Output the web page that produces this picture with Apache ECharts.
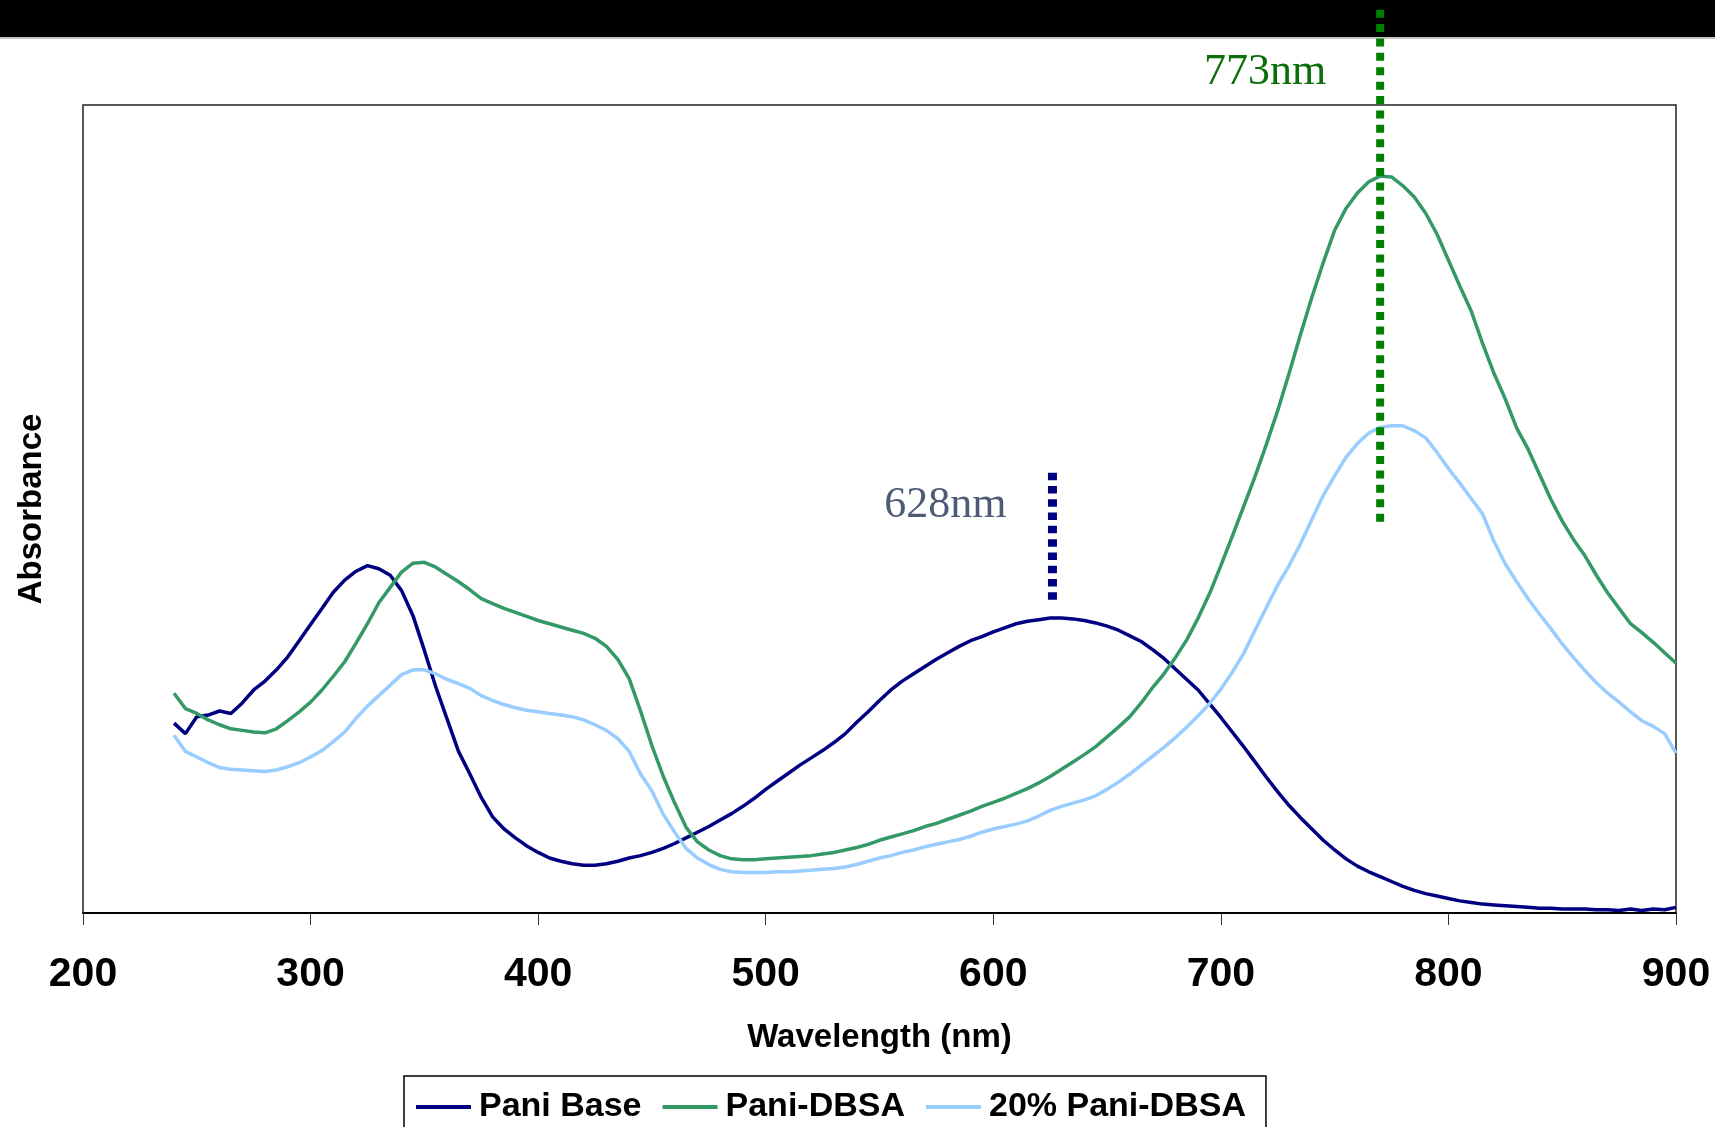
<!DOCTYPE html>
<html>
<head>
<meta charset="utf-8">
<script src="https://cdn.jsdelivr.net/npm/echarts@6/dist/echarts.min.js"></script>
<style>
  html, body {margin: 0; padding: 0; background: #fff;}
  #main {width: 1715px; height: 1127px;}
</style>
</head>
<body>
<div id="main"></div>
<script>
// wavelength grid (nm)
var wavelength = [
  240,245,250,255,260,265,270,275,280,285,
  290,295,300,305,310,315,320,325,330,335,
  340,345,350,355,360,365,370,375,380,385,
  390,395,400,405,410,415,420,425,430,435,
  440,445,450,455,460,465,470,475,480,485,
  490,495,500,505,510,515,520,525,530,535,
  540,545,550,555,560,565,570,575,580,585,
  590,595,600,605,610,615,620,625,630,635,
  640,645,650,655,660,665,670,675,680,685,
  690,695,700,705,710,715,720,725,730,735,
  740,745,750,755,760,765,770,775,780,785,
  790,795,800,805,810,815,820,825,830,835,
  840,845,850,855,860,865,870,875,880,885,
  890,895,900
];
// absorbance (arbitrary units)
var paniBase = [
  0.235,0.222,0.243,0.245,0.250,0.247,0.260,0.276,0.287,0.301,
  0.317,0.337,0.357,0.377,0.397,0.412,0.423,0.430,0.426,0.418,
  0.399,0.368,0.325,0.280,0.240,0.200,0.172,0.143,0.119,0.104,
  0.093,0.083,0.075,0.068,0.064,0.061,0.059,0.059,0.061,0.064,
  0.068,0.071,0.075,0.080,0.086,0.093,0.100,0.107,0.115,0.123,
  0.132,0.142,0.153,0.163,0.173,0.183,0.192,0.201,0.211,0.222,
  0.236,0.249,0.263,0.276,0.287,0.296,0.305,0.314,0.322,0.330,
  0.337,0.342,0.348,0.353,0.358,0.361,0.363,0.365,0.365,0.364,
  0.362,0.359,0.355,0.350,0.343,0.336,0.326,0.315,0.302,0.289,
  0.276,0.259,0.242,0.224,0.206,0.187,0.168,0.150,0.133,0.118,
  0.104,0.090,0.078,0.067,0.058,0.051,0.045,0.039,0.033,0.028,
  0.024,0.021,0.018,0.015,0.013,0.011,0.010,0.009,0.008,0.007,
  0.006,0.006,0.005,0.005,0.005,0.004,0.004,0.003,0.005,0.003,
  0.005,0.004,0.007
];
var paniDbsa = [
  0.272,0.253,0.247,0.239,0.233,0.228,0.226,0.224,0.223,0.228,
  0.238,0.249,0.261,0.276,0.293,0.311,0.334,0.358,0.384,0.403,
  0.422,0.433,0.434,0.428,0.419,0.410,0.400,0.389,0.383,0.377,
  0.372,0.367,0.362,0.358,0.354,0.350,0.346,0.340,0.330,0.314,
  0.290,0.250,0.207,0.169,0.136,0.106,0.088,0.078,0.071,0.067,
  0.066,0.066,0.067,0.068,0.069,0.070,0.071,0.073,0.075,0.078,
  0.081,0.085,0.090,0.094,0.098,0.102,0.107,0.111,0.116,0.121,
  0.126,0.132,0.137,0.142,0.148,0.154,0.161,0.169,0.178,0.187,
  0.196,0.206,0.218,0.230,0.243,0.260,0.279,0.296,0.316,0.338,
  0.365,0.395,0.430,0.466,0.503,0.540,0.580,0.622,0.668,0.716,
  0.762,0.805,0.845,0.872,0.891,0.905,0.912,0.911,0.900,0.886,
  0.866,0.840,0.808,0.776,0.745,0.705,0.668,0.636,0.600,0.574,
  0.543,0.512,0.485,0.462,0.442,0.418,0.396,0.377,0.358,0.347,
  0.335,0.322,0.309
];
var pani20 = [
  0.220,0.200,0.193,0.186,0.180,0.178,0.177,0.176,0.175,0.177,
  0.181,0.186,0.193,0.201,0.212,0.224,0.241,0.256,0.269,0.282,
  0.295,0.301,0.301,0.296,0.289,0.284,0.278,0.269,0.263,0.258,
  0.254,0.251,0.249,0.247,0.245,0.243,0.239,0.233,0.226,0.216,
  0.200,0.172,0.151,0.122,0.100,0.080,0.068,0.060,0.054,0.051,
  0.050,0.050,0.050,0.051,0.051,0.052,0.053,0.054,0.055,0.057,
  0.060,0.064,0.068,0.071,0.075,0.078,0.082,0.085,0.088,0.091,
  0.095,0.100,0.104,0.107,0.110,0.114,0.120,0.127,0.132,0.136,
  0.140,0.145,0.153,0.162,0.172,0.183,0.194,0.205,0.217,0.230,
  0.244,0.259,0.277,0.298,0.321,0.350,0.378,0.406,0.430,0.457,
  0.487,0.517,0.541,0.564,0.581,0.594,0.601,0.603,0.603,0.597,
  0.588,0.570,0.550,0.532,0.513,0.494,0.460,0.432,0.410,0.389,
  0.370,0.352,0.333,0.316,0.300,0.285,0.272,0.261,0.249,0.238,
  0.231,0.222,0.198
];
var seriesNames = ['Pani Base', 'Pani-DBSA', '20% Pani-DBSA'];
var seriesColors = ['#000080', '#339966', '#99CCFF'];

// peak markers: position, vertical extent, label
var peakLabels = ['628nm', '773nm'];
var peakX = [626, 770];
var peakTop = [0.545, 1.118];
var peakBottom = [0.384, 0.483];

var sans = 'Liberation Sans, Arial, sans-serif';
var serif = 'Liberation Serif, Times New Roman, serif';

function pairs(ys) {
  return wavelength.map(function(w, i) { return [w, ys[i]]; });
}

var myChart = echarts.init(document.getElementById('main'));

var curves = [paniBase, paniDbsa, pani20].map(function(ys, i) {
  return {
    name: seriesNames[i], type: 'line', data: pairs(ys),
    showSymbol: false, symbol: 'none', silent: true,
    lineStyle: {color: seriesColors[i], width: 3.5},
    itemStyle: {color: seriesColors[i]},
    emphasis: {disabled: true}, z: 3
  };
});

var markStyles = [
  {color: '#000080', width: 9, dash: [7.5, 5.8], text: '#4F5B76', distance: 46, dy: 33},
  {color: '#008000', width: 8, dash: [8, 6.4], text: '#0A6E0A', distance: 54, dy: 63}
];
var markers = peakX.map(function(x, i) {
  var s = markStyles[i];
  return {
    name: 'peak' + i, type: 'line', clip: false, silent: true,
    symbol: 'circle', symbolSize: 0, showSymbol: true, z: 6,
    lineStyle: {color: s.color, width: s.width, type: s.dash, cap: 'butt'},
    itemStyle: {color: s.color},
    emphasis: {disabled: true},
    data: [
      {value: [x, peakTop[i]], label: {
        show: true, formatter: peakLabels[i], position: 'left',
        distance: s.distance, offset: [0, s.dy],
        fontFamily: serif, fontSize: 44, color: s.text
      }},
      [x, peakBottom[i]]
    ]
  };
});

var option = {
  animation: false,
  backgroundColor: '#ffffff',
  graphic: [
    {type: 'rect', left: 0, top: 0, shape: {width: 1715, height: 37}, style: {fill: '#000'}},
    {type: 'line', shape: {x1: 0, y1: 38, x2: 1715, y2: 38}, style: {stroke: '#888', lineWidth: 1}}
  ],
  grid: {left: 83, right: 39, top: 105, bottom: 214, show: true, borderColor: '#222', borderWidth: 1.5},
  legend: {
    data: seriesNames, left: 404, top: 1076, orient: 'horizontal',
    icon: 'rect', itemWidth: 55, itemHeight: 4, itemGap: 21,
    padding: [14, 20, 60, 12], borderColor: '#000', borderWidth: 1.5,
    selectedMode: false,
    textStyle: {fontFamily: sans, fontWeight: 'bold', fontSize: 34, color: '#000', padding: [0, 0, 0, 3]}
  },
  xAxis: {
    type: 'value', min: 200, max: 900, interval: 100,
    name: 'Wavelength (nm)', nameLocation: 'middle', nameGap: 108,
    nameTextStyle: {fontFamily: sans, fontWeight: 'bold', fontSize: 33, color: '#000'},
    axisLine: {show: true, onZero: false, lineStyle: {color: '#000', width: 2}},
    axisTick: {show: true, inside: false, length: 12, lineStyle: {color: '#333', width: 1}},
    axisLabel: {margin: 41, fontFamily: sans, fontWeight: 'bold', fontSize: 41, color: '#000'},
    splitLine: {show: false}
  },
  yAxis: {
    type: 'value', min: 0, max: 1,
    name: 'Absorbance', nameLocation: 'middle', nameGap: 35, nameRotate: 90,
    nameTextStyle: {fontFamily: sans, fontWeight: 'bold', fontSize: 33, color: '#000'},
    axisLine: {show: false}, axisTick: {show: false}, axisLabel: {show: false},
    splitLine: {show: false}
  },
  series: curves.concat(markers)
};
myChart.setOption(option);
</script>
</body>
</html>
